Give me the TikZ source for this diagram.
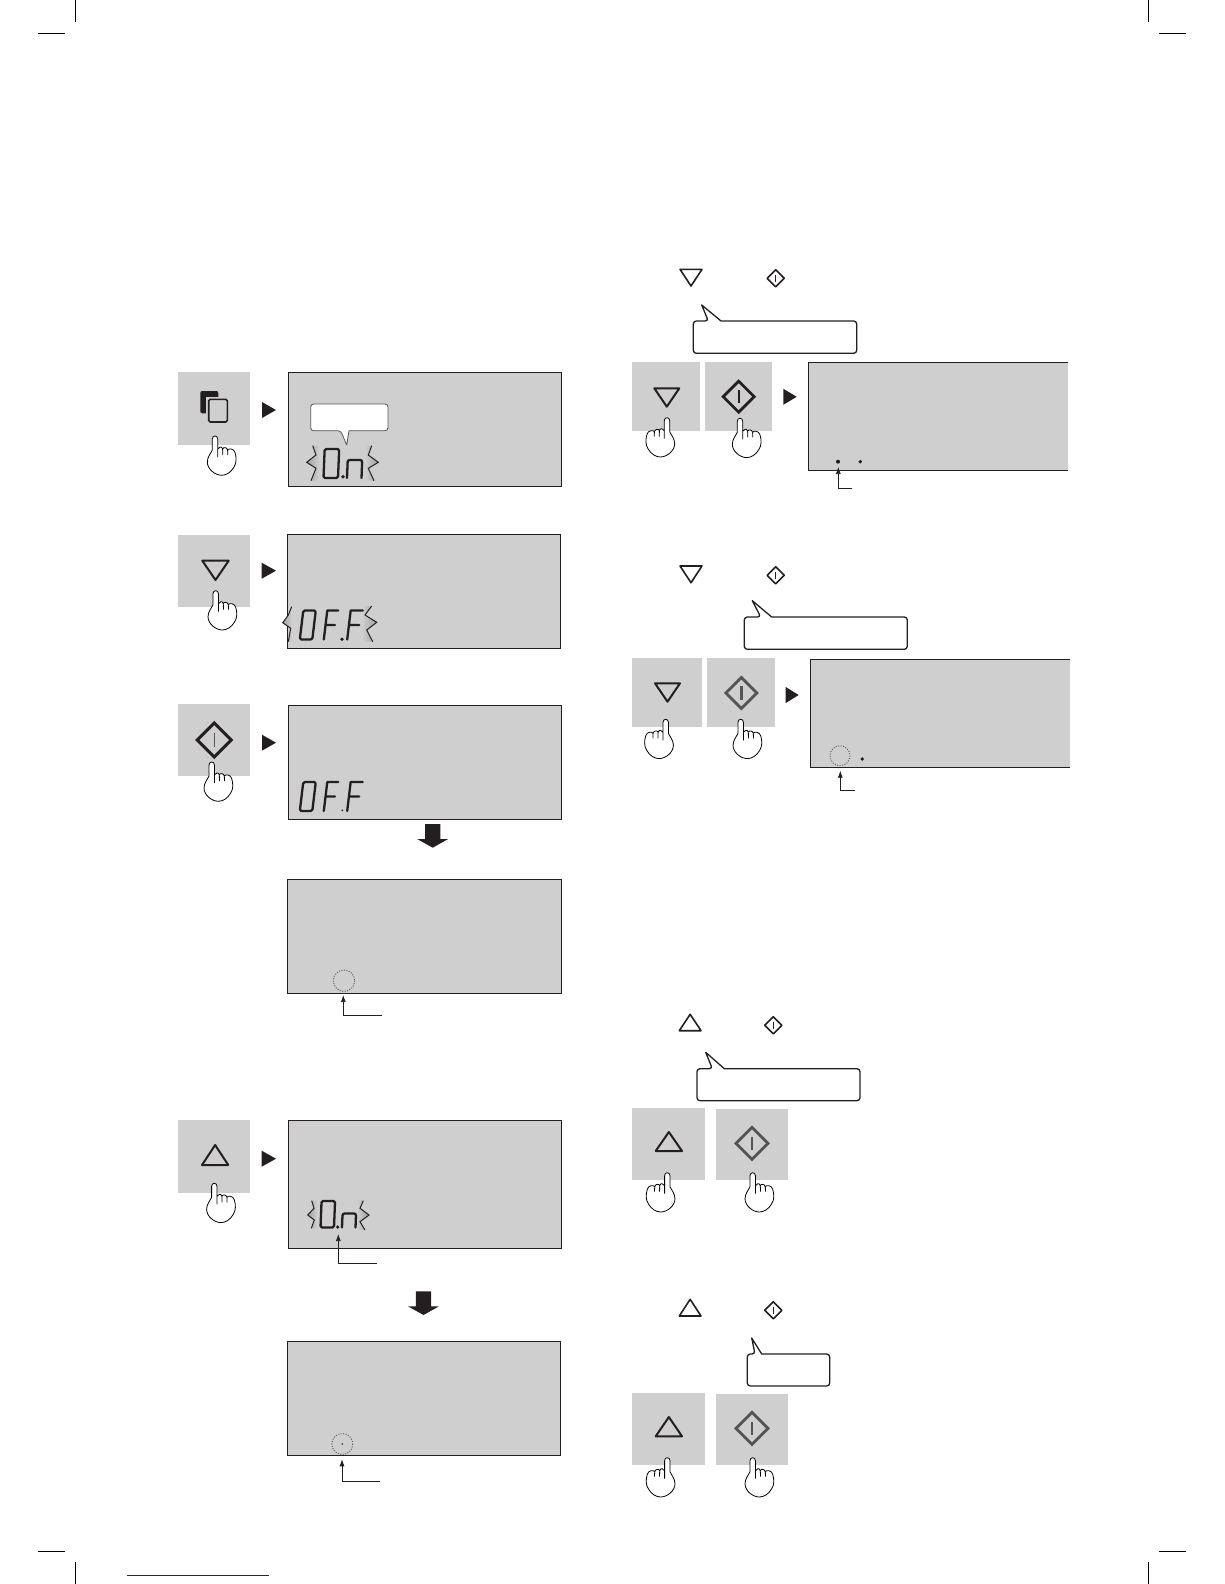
\documentclass[tikz,border=0pt]{standalone}
\usetikzlibrary{arrows.meta}
\definecolor{lcdgray}{HTML}{CFCFCF}
\definecolor{inkdark}{HTML}{231F20}
\definecolor{inkgray}{HTML}{555555}
\definecolor{footblue}{HTML}{1B1F7A}
\tikzset{
  lcdpanel/.style={draw=inkdark,line width=0.9pt,fill=lcdgray,inner sep=0pt,outer sep=0pt},
  openpanel/.style={fill=lcdgray,inner sep=0pt,outer sep=0pt},
  btnpanel/.style={fill=lcdgray,inner sep=0pt,outer sep=0pt},
  edgeline/.style={draw=inkdark,line width=0.9pt},
  iconline/.style={draw=inkdark,line width=1.6pt,line join=round},
  btnline/.style={draw=inkdark,line width=2pt,line join=round},
  leader/.style={draw=inkdark,line width=0.7pt,-{Latex[length=7pt,width=5pt]}},
  ringmark/.style={draw=inkgray,line width=0.9pt,dash pattern=on 1pt off 1.5pt},
  cropmark/.style={draw=black,line width=0.7pt},
  bubble/.style={draw=inkdark,fill=white,line width=1.3pt,line join=round},
  softbubble/.style={draw=inkgray,fill=white,line width=0.8pt,line join=round},
  segline/.style={draw=inkdark,line width=2.3pt,line join=round,line cap=round},
  spark/.style={draw=inkdark,line width=1pt,line join=miter},
  handline/.style={draw=black,fill=white,line width=0.8pt,line join=round},
}
\newcommand\boxnode[6]{\pgfmathsetmacro\bwid{#5-#3}\pgfmathsetmacro\bhei{#6-#4}\node[#2,minimum width=\bwid pt,minimum height=\bhei pt] (#1) at ({(#3+#5)/2},{(#4+#6)/2}) {};}
\newcommand\handshape{%
  \path[handline] (-2.7,3) .. controls (-2.7,-1) and (2.7,-1) .. (2.7,3) -- (2.7,13)
    .. controls (3.5,10.5) and (7,10) .. (7.6,13)
    .. controls (8,11) and (12,11) .. (12.6,14)
    .. controls (13.5,12) and (19,12.5) .. (20,16.5)
    .. controls (21.6,22) and (21.6,27) .. (19,31)
    .. controls (16,36.5) and (11,39.3) .. (6.7,39.3)
    .. controls (0,39.3) and (-7.7,33) .. (-7.7,26)
    .. controls (-7.7,21) and (-4,17) .. (-2.7,14) -- cycle;
  \draw[black,line width=0.8pt] (2.7,13) -- (2.7,21) (7.6,13) -- (7.8,19) (12.6,14) -- (12.8,19);}
\newcommand\handR[2]{\begin{scope}[shift={(#1,#2)}]\handshape\end{scope}}
\newcommand\handL[2]{\begin{scope}[shift={(#1,#2)},xscale=-1]\handshape\end{scope}}
\newcommand\tridown[5]{\draw[#5] (#1,#3) -- (#2,#3) -- ({(#1+#2)/2},#4) -- cycle;}
\newcommand\triup[5]{\draw[#5] (#1,#4) -- (#2,#4) -- ({(#1+#2)/2},#3) -- cycle;}
\newcommand\startkey[5]{\draw[#4] ({#1-#3},#2) -- (#1,{#2-#3}) -- ({#1+#3},#2) -- (#1,{#2+#3}) -- cycle;
  \draw[#5] (#1,{#2-0.42*#3}) -- (#1,{#2+0.42*#3});}
\newcommand\playmark[3]{\fill[inkdark] (#1,{#2-8}) -- ({#1+#3},#2) -- (#1,{#2+8}) -- cycle;}
\newcommand\downblock[2]{\fill[inkdark] ({#1-7.7},#2) -- ({#1+7.7},#2) -- ({#1+7.7},{#2+15}) -- ({#1+15.5},{#2+15}) -- (#1,{#2+23.7}) -- ({#1-15.5},{#2+15}) -- ({#1-7.7},{#2+15}) -- cycle;}
\newcommand\bubbleshape[9]{\draw[#1,rounded corners=3pt] (#7,#3) -- (#4,#3) -- (#4,#5) -- (#2,#5) -- (#2,#3) -- (#6,#3) [sharp corners] -- (#8,#9) -- cycle;}
% digits: x, baseline y, width, height, slant
\newcommand\digO[5]{\begin{scope}[shift={(#1,#2)},xslant=#5]\draw[segline,rounded corners=1.5pt] (0,0) rectangle (#3,-#4);\end{scope}}
\newcommand\digF[5]{\begin{scope}[shift={(#1,#2)},xslant=#5]\draw[segline] (0,0) -- (0,-#4) -- (#3,-#4) (0,{-#4/2}) -- ({0.85*#3},{-#4/2});\end{scope}}
\newcommand\dign[5]{\begin{scope}[shift={(#1,#2)},xslant=#5]\draw[segline,rounded corners=2pt] (0,0) -- (0,-#4) -- (#3,-#4) -- (#3,0);\end{scope}}
\newcommand\sparkL[5]{\coordinate (sy) at (#1);\coordinate (sa) at (#2);\coordinate (sz) at (#5);
  \shade[left color=gray!75,right color=lcdgray] (#1) -- (#2) -- (#3) -- (#4) -- (#5) -- ([xshift=3pt]sa |- sz) -- ([xshift=3pt]sa |- sy) -- cycle;\draw[spark] (#1) -- (#2) -- (#3) -- (#4) -- (#5);}
\newcommand\sparkR[5]{\coordinate (sy) at (#1);\coordinate (sa) at (#2);\coordinate (sz) at (#5);
  \shade[right color=gray!75,left color=lcdgray] (#1) -- (#2) -- (#3) -- (#4) -- (#5) -- ([xshift=-3pt]sa |- sz) -- ([xshift=-3pt]sa |- sy) -- cycle;\draw[spark] (#1) -- (#2) -- (#3) -- (#4) -- (#5);}
\begin{document}
\begin{tikzpicture}[x=1pt,y=-1pt]
\useasboundingbox (0,0) rectangle (1224,1584);
% crop marks
\coordinate (ctl1) at (38.3,33.3); \coordinate (ctl2) at (65,33.3);
\coordinate (ctl3) at (75.3,0);    \coordinate (ctl4) at (75.3,21.7);
\coordinate (ctr1) at (1159,33.3); \coordinate (ctr2) at (1186,33.3);
\coordinate (ctr3) at (1148.7,0);    \coordinate (ctr4) at (1148.7,21.7);
\coordinate (cbl1) at (38.3,1551.3); \coordinate (cbl2) at (65,1551.3);
\coordinate (cbl3) at (75.3,1562);   \coordinate (cbl4) at (75.3,1584);
\coordinate (cbr1) at (1159,1551.3); \coordinate (cbr2) at (1186,1551.3);
\coordinate (cbr3) at (1148.7,1562);   \coordinate (cbr4) at (1148.7,1584);
\draw[cropmark] (ctl1) -- (ctl2) (ctl3) -- (ctl4) (ctr1) -- (ctr2) (ctr3) -- (ctr4)
                (cbl1) -- (cbl2) (cbl3) -- (cbl4) (cbr1) -- (cbr2) (cbr3) -- (cbr4);
\coordinate (fa) at (127.3,1575); \coordinate (fb) at (269,1575);
\draw[footblue,line width=1pt] (fa) -- (fb);

% ---------- left column ----------
\boxnode{b1}{btnpanel}{178}{372}{250}{445}
\boxnode{d1}{lcdpanel}{288.3}{372.3}{561.7}{486.7}
\fill[inkdark,rounded corners=2pt] (200.3,391) rectangle (218.3,413.3);
\draw[draw=lcdgray,line width=4.5pt] (208.7,399.3) rectangle (227.3,422);
\draw[draw=inkdark,fill=lcdgray,line width=1.6pt,rounded corners=1.5pt] (208.7,399.3) rectangle (227.3,422);
\playmark{262}{410}{14}
\handR{215}{436}
\draw[softbubble,rounded corners=3pt] (349,430.7) -- (388,430.7) -- (388,404) -- (310.7,404) -- (310.7,430.7) -- (340.7,430.7) [sharp corners] -- (346.7,445) -- cycle;
\sparkL{312.7,445.7}{316,455}{306.7,462.3}{316,468.3}{311,480.7}
\sparkR{371.7,445.7}{368.3,455}{378.3,462.3}{368.3,468.3}{374,480.7}
\digO{323.5}{478}{14.5}{29}{0.04}
\fill[inkdark] (343,476.7) circle (1.9);
\dign{347}{478}{14.5}{18}{0.04}

\boxnode{b2}{btnpanel}{178}{535}{250}{606.7}
\boxnode{d2}{lcdpanel}{287.3}{534.3}{560.7}{648.3}
\tridown{202.3}{228.7}{560.7}{580}{btnline}
\playmark{261.7}{570.7}{14.3}
\handR{215.7}{590.7}
\sparkL{291.7,606.7}{288.3,615}{282.7,622.7}{290.7,628.3}{288.3,641.7}
\sparkR{371.7,606}{365,615}{376.7,622.3}{366.7,630}{372.7,641.7}
\digO{299.8}{639.5}{12.5}{29}{0.12}
\digF{323.8}{639.5}{11}{29}{0.12}
\fill[inkdark] (342,639.3) circle (1.9);
\digF{347.2}{639.5}{12}{29}{0.12}

\boxnode{b3}{btnpanel}{178}{704}{250}{776}
\boxnode{d3}{lcdpanel}{288.3}{705.3}{561.7}{819.3}
\startkey{214.3}{740}{17}{draw=inkdark,line width=3pt,line join=miter}{draw=inkgray,line width=1.6pt}
\playmark{262}{742.7}{14}
\handR{211.7}{762}
\digO{299.8}{811}{12.5}{29}{0.12}
\digF{323.8}{811}{11}{29}{0.12}
\fill[inkdark] (342.3,810.3) circle (1);
\digF{347.2}{811}{12}{29}{0.12}
\downblock{432.7}{824}
\boxnode{d4}{lcdpanel}{287.3}{879.3}{561.7}{993.3}
\node[inner sep=0pt,minimum size=0pt] (r4) at (344,980.7) {};
\draw[ringmark] (r4) circle (10.7);
\coordinate (l4a) at (381.7,1015); \coordinate (l4b) at (343.3,995);
\draw[leader] (l4a) -| (l4b);

\boxnode{b5}{btnpanel}{178}{1120}{250}{1192.7}
\boxnode{d5}{lcdpanel}{288.3}{1120.3}{561.7}{1248.3}
\triup{202}{228.3}{1145}{1165}{btnline}
\playmark{261.7}{1158.7}{14.3}
\handR{214.3}{1183.3}
\sparkL{311.7,1200.7}{314,1208.3}{307.7,1215}{314.3,1220}{311.3,1228.3}
\sparkR{363.3,1200.7}{360,1208.3}{369,1215}{360,1221.7}{365,1230}
\digO{320.5}{1227.5}{13.5}{26.5}{0.04}
\fill[inkdark] (337.7,1227) circle (1.8);
\dign{342}{1227.5}{13.5}{14}{0.04}
\coordinate (l5a) at (376.7,1263.3); \coordinate (l5b) at (338.3,1234);
\draw[leader] (l5a) -| (l5b);
\downblock{423.5}{1291.3}
\boxnode{d6}{lcdpanel}{287.3}{1341.3}{560.7}{1455.3}
\node[inner sep=0pt,minimum size=0pt] (r6) at (342.3,1444) {};
\draw[ringmark] (r6) circle (10.5);
\fill[inkdark] (r6) circle (0.9);
\coordinate (l6a) at (380,1481.7); \coordinate (l6b) at (342,1459.3);
\draw[leader] (l6a) -| (l6b);

% ---------- right column, first block ----------
\tridown{680}{702}{269.3}{286}{iconline}
\startkey{775.7}{278.3}{8.6}{iconline}{draw=inkdark,line width=1pt}
\bubbleshape{bubble}{693.3}{321}{856.7}{353.3}{708.3}{721}{701.7}{305}
\boxnode{b7}{btnpanel}{632}{362}{700}{431}
\boxnode{c7}{btnpanel}{705}{362}{772}{431}
\tridown{654.3}{679.3}{388.3}{406.7}{btnline}
\startkey{738.7}{396.7}{15.5}{draw=inkdark,line width=2.8pt,line join=miter}{draw=inkdark,line width=2.4pt}
\handL{667}{417.7}
\handR{740}{418.3}
\playmark{783.3}{396.8}{13.4}
\boxnode{d7}{openpanel}{808.3}{362.3}{1068.3}{470.7}
\draw[edgeline] (d7.north east) -- (d7.north west) -- (d7.south west) -- (d7.south east);
\fill[inkdark] (838,461.7) circle (2) (860.3,461.7) circle (1.9);
\coordinate (l7a) at (852.3,488.7); \coordinate (l7b) at (838.3,467);
\draw[leader] (l7a) -| (l7b);

% ---------- right column, second block ----------
\tridown{680}{702}{566}{582.7}{iconline}
\startkey{775.7}{575.3}{8.6}{iconline}{draw=inkdark,line width=1pt}
\bubbleshape{bubble}{744.3}{617}{907.3}{649.3}{760.7}{771.7}{752.3}{600.7}
\boxnode{b8}{btnpanel}{632}{658}{701.7}{726.7}
\boxnode{c8}{btnpanel}{707}{658}{775}{726.7}
\tridown{655}{680}{683.3}{701.7}{btnline}
\startkey{741.3}{693}{15.5}{draw=inkgray,line width=2.8pt,line join=miter}{draw=inkgray,line width=2.4pt}
\handL{665.7}{719.3}
\handR{740.7}{719.3}
\playmark{785.7}{695}{13}
\boxnode{d8}{openpanel}{810.3}{659.3}{1070.3}{767.3}
\draw[edgeline] (d8.north east) -- (d8.north west) -- (d8.south west) -- (d8.south east);
\node[inner sep=0pt,minimum size=0pt] (r8) at (840,755.7) {};
\draw[ringmark] (r8) circle (10);
\fill[inkdark] (862.3,759) circle (1.9);
\coordinate (l8a) at (855,790); \coordinate (l8b) at (840.3,770.7);
\draw[leader] (l8a) -| (l8b);

% ---------- right column, third block ----------
\triup{679.3}{701}{1014.3}{1030.7}{iconline}
\startkey{773.3}{1025.3}{8.6}{iconline}{draw=inkdark,line width=1.2pt}
\bubbleshape{bubble}{697}{1068.7}{860}{1100.7}{712.3}{724.3}{705.7}{1052.3}
\boxnode{b9}{btnpanel}{632}{1108}{705}{1180}
\boxnode{c9}{btnpanel}{716}{1109}{788}{1180}
\triup{655.7}{682}{1132}{1151}{btnline}
\startkey{752}{1143.3}{16}{draw=inkgray,line width=2.8pt,line join=miter}{draw=inkgray,line width=2.4pt}
\handL{667.3}{1172.7}
\handR{752.7}{1172.7}

% ---------- right column, fourth block ----------
\triup{679.3}{701}{1299.3}{1316}{iconline}
\startkey{773.3}{1310.3}{8.6}{iconline}{draw=inkdark,line width=1.2pt}
\bubbleshape{bubble}{747.3}{1354}{829.7}{1386}{755}{761.7}{751.7}{1338}
\boxnode{b10}{btnpanel}{632}{1393}{705}{1464.7}
\boxnode{c10}{btnpanel}{716}{1394}{788}{1464.7}
\triup{655.7}{682}{1417}{1436.3}{btnline}
\startkey{752}{1428.3}{16}{draw=inkgray,line width=2.8pt,line join=miter}{draw=inkgray,line width=2.4pt}
\handL{667.3}{1457.7}
\handR{752.7}{1457.7}
\end{tikzpicture}
\end{document}
